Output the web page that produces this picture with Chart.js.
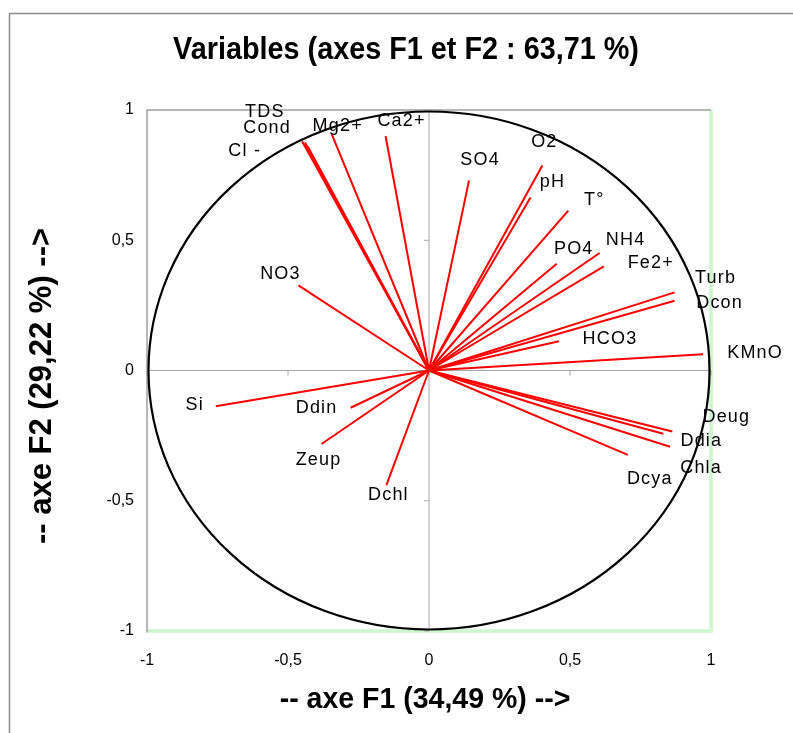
<!DOCTYPE html>
<html>
<head>
<meta charset="utf-8">
<script src="https://cdn.jsdelivr.net/npm/chart.js@4.4.1/dist/chart.umd.min.js"></script>
<style>
    html, body { margin: 0; padding: 0; background: #ffffff; }
    #chart { display: block; }
</style>
</head>
<body>
<canvas id="chart" width="793" height="733"></canvas>
<script>
// Coordonnées des variables sur les axes F1 et F2
const variables = ["TDS", "Cond", "Cl -", "Mg2+", "Ca2+", "SO4", "O2", "pH", "T°", "PO4", "NH4", "Fe2+",
                   "Turb", "Dcon", "HCO3", "KMnO", "Deug", "Ddia", "Chla", "Dcya",
                   "NO3", "Si", "Ddin", "Zeup", "Dchl"];
const f1 = [-0.44, -0.45, -0.43, -0.345, -0.154, 0.142, 0.402, 0.36, 0.494, 0.453, 0.605, 0.62,
            0.871, 0.871, 0.461, 0.972, 0.863, 0.831, 0.855, 0.705,
            -0.463, -0.756, -0.278, -0.381, -0.151];
const f2 = [0.875, 0.88, 0.86, 0.907, 0.90, 0.73, 0.787, 0.664, 0.614, 0.41, 0.451, 0.40,
            0.30, 0.268, 0.112, 0.062, -0.234, -0.243, -0.293, -0.324,
            0.327, -0.137, -0.143, -0.282, -0.44];
const tickValues = [-1, -0.5, 0, 0.5, 1];
const tickLabels = ["-1", "-0,5", "0", "0,5", "1"];

const titleText = "Variables (axes F1 et F2 : 63,71 %)";
const xTitleText = "-- axe F1 (34,49 %) -->";
const yTitleText = "-- axe F2 (29,22 %) -->";

// décalage des étiquettes par rapport au bout du vecteur (px)
const labelDx = [-40, -35, -63, 6, 16, 11, 2, 22, 26, 17, 26, 47,
                 41, 45, 51, 52, 54, 38, 31, 22,
                 -18, -21, -34, -3, 2];
const labelDy = [-31, -13, 5, -8, -15, -20, -23, -15, -11, -15, -13, -3,
                 -14, 2, -2, -1, -14, 7, 21, 24,
                 -11, -1, 0, 16, 10];

const datasets = variables.map((name, i) => ({
    label: name,
    data: [{ x: 0, y: 0 }, { x: f1[i], y: f2[i] }],
    showLine: true,
    borderColor: "#ff0000",
    borderWidth: 2,
    pointRadius: 0,
    pointHoverRadius: 0
}));

// texte gras étroit : police normale compressée en largeur
function narrowText(ctx, text, x, y, size, squeeze, angle) {
    ctx.save();
    ctx.translate(x, y);
    ctx.rotate(angle || 0);
    ctx.scale(squeeze, 1);
    ctx.font = "bold " + size + "px 'Liberation Sans', Arial, sans-serif";
    ctx.fillText(text, 0, 0);
    ctx.restore();
}

const decorPlugin = {
    id: "decor",
    beforeDraw(chart) {
        const ctx = chart.ctx;
        ctx.save();
        // cadre extérieur
        ctx.strokeStyle = "#8c8c8c";
        ctx.lineWidth = 1.5;
        ctx.beginPath();
        ctx.moveTo(9.5, 733);
        ctx.lineTo(9.5, 13.5);
        ctx.lineTo(793, 13.5);
        ctx.stroke();
        ctx.restore();
    },
    beforeDatasetsDraw(chart) {
        const ctx = chart.ctx;
        const a = chart.chartArea;
        const xs = chart.scales.x, ys = chart.scales.y;
        const x0 = xs.getPixelForValue(0), y0 = ys.getPixelForValue(0);
        ctx.save();
        // bord de la zone de tracé
        ctx.strokeStyle = "#ccf7cc";
        ctx.lineWidth = 3.5;
        ctx.beginPath();
        ctx.moveTo(a.left, a.bottom);
        ctx.lineTo(a.right, a.bottom);
        ctx.lineTo(a.right, a.top);
        ctx.stroke();
        ctx.strokeStyle = "#a0a0a0";
        ctx.lineWidth = 1.5;
        ctx.beginPath();
        ctx.moveTo(a.left, a.bottom + 1.5);
        ctx.lineTo(a.left, a.top);
        ctx.lineTo(a.right, a.top);
        ctx.stroke();

        // axes centraux
        ctx.strokeStyle = "#a6a6a6";
        ctx.lineWidth = 1;
        ctx.beginPath();
        ctx.moveTo(a.left, y0);
        ctx.lineTo(a.right, y0);
        ctx.moveTo(x0, a.top);
        ctx.lineTo(x0, a.bottom);
        tickValues.forEach(v => {
            const px = xs.getPixelForValue(v);
            ctx.moveTo(px, y0);
            ctx.lineTo(px, y0 + 5);
            const py = ys.getPixelForValue(v);
            ctx.moveTo(x0, py);
            ctx.lineTo(x0 - 5, py);
        });
        ctx.stroke();

        // cercle des corrélations
        const rx = xs.getPixelForValue(1) - x0;
        const ry = y0 - ys.getPixelForValue(1);
        ctx.strokeStyle = "#000000";
        ctx.lineWidth = 2.2;
        ctx.beginPath();
        ctx.ellipse(x0, y0, rx - 1.5, ry - 1.5, 0, 0, Math.PI * 2);
        ctx.stroke();
        ctx.restore();
    },
    afterDatasetsDraw(chart) {
        const ctx = chart.ctx;
        const xs = chart.scales.x, ys = chart.scales.y;
        ctx.save();
        ctx.fillStyle = "#000000";
        ctx.font = "18px 'Liberation Sans', Arial, sans-serif";
        ctx.letterSpacing = "1.2px";
        ctx.textAlign = "center";
        ctx.textBaseline = "middle";
        variables.forEach((name, i) => {
            const px = xs.getPixelForValue(f1[i]) + labelDx[i];
            const py = ys.getPixelForValue(f2[i]) + labelDy[i];
            ctx.fillText(name, px, py);
        });
        ctx.letterSpacing = "0px";

        // titres
        narrowText(ctx, titleText, 406, 50, 32, 0.9, 0);
        narrowText(ctx, xTitleText, 425, 700, 30, 0.95, 0);
        narrowText(ctx, yTitleText, 42, 386, 31, 1.0, -Math.PI / 2);
        ctx.restore();
    }
};

new Chart(document.getElementById("chart"), {
    type: "scatter",
    data: { datasets: datasets },
    options: {
        responsive: false,
        animation: false,
        devicePixelRatio: 1,
        layout: {
            padding: { top: 110, right: 82, left: 0, bottom: 0 }
        },
        scales: {
            x: {
                min: -1,
                max: 1,
                afterFit: function(scale) { scale.height = 102; },
                afterBuildTicks: function(scale) {
                    scale.ticks = tickValues.map(v => ({ value: v }));
                },
                grid: { display: false, drawTicks: false },
                border: { display: false },
                ticks: {
                    padding: 20,
                    color: "#000000",
                    font: { family: "'Liberation Sans', Arial, sans-serif", size: 16 },
                    maxRotation: 0,
                    callback: function(value) {
                        return tickLabels[tickValues.indexOf(value)];
                    }
                }
            },
            y: {
                min: -1,
                max: 1,
                afterFit: function(scale) { scale.width = 147; },
                afterBuildTicks: function(scale) {
                    scale.ticks = tickValues.map(v => ({ value: v }));
                },
                grid: { display: false, drawTicks: false },
                border: { display: false },
                ticks: {
                    padding: 13,
                    color: "#000000",
                    font: { family: "'Liberation Sans', Arial, sans-serif", size: 16 },
                    callback: function(value) {
                        return tickLabels[tickValues.indexOf(value)];
                    }
                }
            }
        },
        plugins: {
            legend: { display: false },
            title: { display: false },
            tooltip: { enabled: false }
        }
    },
    plugins: [decorPlugin]
});
</script>
</body>
</html>
